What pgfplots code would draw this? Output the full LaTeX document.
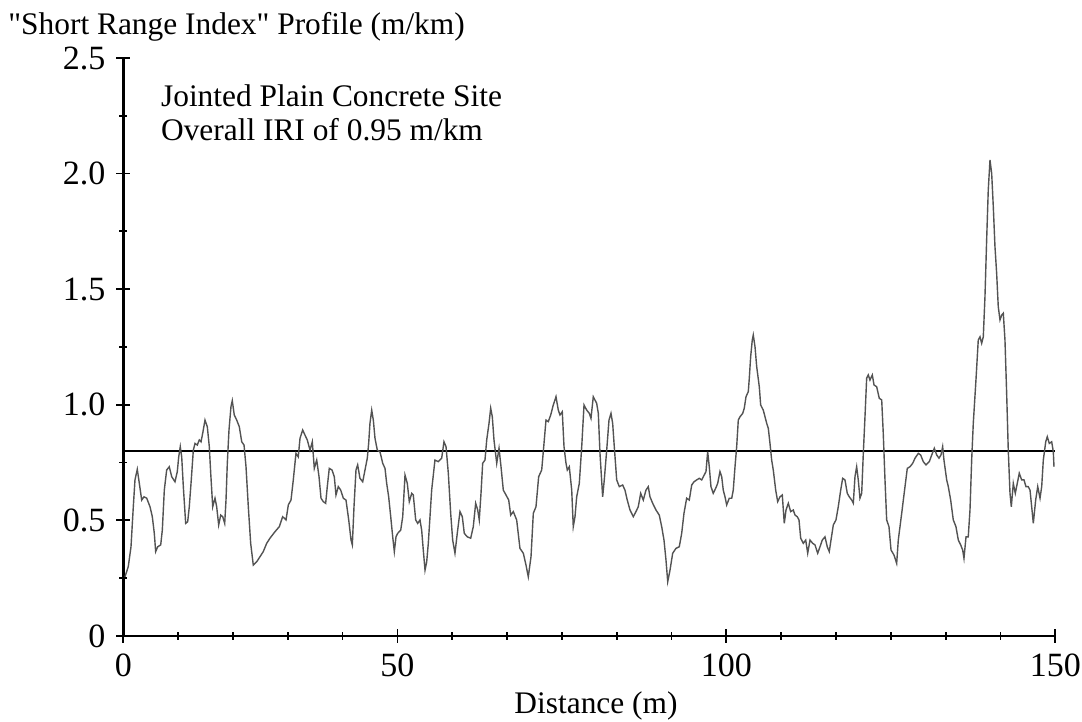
\documentclass[border=0pt]{standalone}
\usepackage{fontspec}
\setmainfont{Liberation Serif}[Ligatures=TeXOff]
\usepackage{pgfplots}
\pgfplotsset{compat=1.18}
\usepackage{pgfplotstable}

\pgfplotstableread{
x y
0.27 0.256
0.80 0.300
1.24 0.386
1.61 0.559
1.88 0.675
2.25 0.721
2.58 0.660
2.96 0.588
3.33 0.602
3.77 0.596
4.30 0.559
4.67 0.516
4.99 0.444
5.21 0.365
5.54 0.386
6.02 0.394
6.28 0.458
6.60 0.631
6.98 0.718
7.40 0.732
7.79 0.689
8.32 0.667
8.69 0.711
8.92 0.775
9.17 0.819
9.40 0.775
9.66 0.646
10.04 0.487
10.36 0.494
10.62 0.559
10.94 0.675
11.27 0.804
11.54 0.833
11.91 0.826
12.23 0.848
12.51 0.840
12.78 0.877
13.15 0.934
13.52 0.905
13.84 0.819
14.07 0.704
14.39 0.559
14.76 0.596
15.03 0.559
15.35 0.480
15.68 0.523
16.00 0.516
16.32 0.487
16.53 0.588
16.74 0.747
17.01 0.891
17.33 0.992
17.54 1.018
17.86 0.956
18.25 0.934
18.67 0.905
19.06 0.840
19.43 0.826
19.75 0.732
20.12 0.559
20.50 0.401
20.92 0.307
21.47 0.321
22.00 0.343
22.53 0.365
23.08 0.401
23.61 0.423
24.41 0.451
25.11 0.473
25.65 0.516
26.19 0.502
26.56 0.567
26.99 0.588
27.36 0.675
27.79 0.790
28.16 0.775
28.44 0.855
28.87 0.891
29.24 0.869
29.61 0.848
30.05 0.804
30.42 0.840
30.74 0.725
31.13 0.761
31.50 0.689
31.82 0.596
32.19 0.581
32.57 0.574
32.83 0.646
33.15 0.725
33.59 0.718
33.96 0.689
34.23 0.610
34.60 0.646
34.99 0.631
35.41 0.596
35.84 0.588
36.28 0.502
36.65 0.415
36.86 0.394
37.13 0.559
37.45 0.718
37.72 0.740
38.09 0.682
38.53 0.667
38.90 0.718
39.27 0.769
39.49 0.833
39.70 0.920
39.98 0.977
40.24 0.934
40.51 0.855
40.88 0.804
41.31 0.797
41.75 0.747
42.12 0.725
42.39 0.660
42.71 0.602
43.04 0.516
43.36 0.429
43.62 0.365
43.89 0.429
44.16 0.444
44.65 0.458
44.97 0.516
45.34 0.696
45.71 0.660
46.03 0.581
46.42 0.617
46.67 0.610
47.06 0.502
47.38 0.487
47.75 0.502
48.02 0.458
48.28 0.372
48.56 0.285
48.83 0.321
49.09 0.401
49.63 0.631
50.16 0.761
50.70 0.754
51.24 0.769
51.61 0.840
51.94 0.819
52.31 0.704
52.69 0.531
53.01 0.415
53.38 0.358
53.75 0.444
54.19 0.538
54.56 0.516
54.88 0.444
55.36 0.429
55.91 0.423
56.33 0.473
56.71 0.574
57.04 0.545
57.29 0.502
57.57 0.617
57.84 0.747
58.21 0.761
58.49 0.848
58.86 0.920
59.13 0.985
59.39 0.948
59.66 0.848
60.10 0.747
60.47 0.812
60.79 0.732
61.16 0.631
61.59 0.610
62.03 0.588
62.35 0.523
62.77 0.538
63.31 0.502
63.84 0.379
64.38 0.358
64.81 0.307
65.18 0.256
65.62 0.343
65.99 0.531
66.42 0.559
66.85 0.689
67.34 0.718
67.71 0.833
68.03 0.934
68.40 0.927
68.79 0.956
69.20 0.999
69.64 1.035
70.01 0.977
70.28 0.956
70.65 0.970
70.93 0.819
71.25 0.747
71.46 0.718
71.78 0.732
72.17 0.631
72.42 0.473
72.70 0.516
72.97 0.602
73.39 0.660
73.78 0.819
74.15 0.999
74.58 0.977
75.00 0.963
75.27 0.941
75.64 1.035
76.19 1.006
76.45 0.963
76.72 0.790
77.15 0.602
77.41 0.675
77.80 0.804
78.17 0.934
78.49 0.963
78.76 0.920
79.02 0.819
79.41 0.675
79.83 0.646
80.37 0.653
80.74 0.631
81.11 0.588
81.55 0.545
82.08 0.516
82.51 0.538
82.88 0.559
83.27 0.617
83.69 0.588
84.12 0.631
84.49 0.646
84.77 0.602
85.20 0.574
85.73 0.545
86.26 0.523
86.65 0.473
87.02 0.415
87.34 0.329
87.62 0.235
87.99 0.285
88.42 0.358
88.95 0.379
89.48 0.386
89.87 0.444
90.24 0.531
90.67 0.596
91.09 0.588
91.48 0.653
91.85 0.667
92.28 0.675
92.70 0.682
93.09 0.675
93.35 0.689
93.78 0.711
94.05 0.797
94.31 0.732
94.58 0.646
94.95 0.617
95.34 0.639
95.66 0.660
96.03 0.711
96.31 0.689
96.56 0.631
96.84 0.602
97.11 0.567
97.53 0.596
97.92 0.596
98.17 0.631
98.45 0.732
98.72 0.819
98.98 0.934
99.25 0.948
99.69 0.963
99.94 0.985
100.22 1.035
100.59 1.057
100.75 1.115
100.97 1.208
101.23 1.280
101.39 1.302
101.67 1.251
101.94 1.165
102.36 1.078
102.58 0.999
103.00 0.977
103.28 0.948
103.55 0.920
103.81 0.898
104.08 0.833
104.35 0.761
104.61 0.718
105.00 0.631
105.32 0.581
105.69 0.602
106.06 0.610
106.38 0.487
106.66 0.545
107.03 0.574
107.41 0.538
107.83 0.545
108.11 0.523
108.47 0.516
108.75 0.502
109.02 0.423
109.44 0.401
109.83 0.415
110.15 0.358
110.52 0.415
110.95 0.401
111.32 0.394
111.76 0.358
112.13 0.386
112.50 0.415
112.93 0.429
113.30 0.386
113.62 0.365
113.90 0.415
114.27 0.480
114.70 0.502
115.07 0.559
115.46 0.631
115.78 0.682
116.15 0.675
116.52 0.617
116.84 0.602
117.23 0.588
117.49 0.574
117.76 0.689
118.03 0.732
118.29 0.675
118.56 0.596
118.84 0.617
119.10 0.790
119.37 0.948
119.64 1.115
119.90 1.129
120.17 1.107
120.55 1.129
120.82 1.086
121.25 1.078
121.67 1.028
122.06 1.021
122.31 0.877
122.59 0.675
122.86 0.502
123.23 0.473
123.56 0.372
124.04 0.350
124.47 0.314
124.73 0.415
125.28 0.531
125.81 0.646
126.18 0.725
126.61 0.732
127.05 0.747
127.42 0.769
127.95 0.790
128.33 0.783
128.75 0.754
129.19 0.740
129.72 0.754
130.11 0.783
130.53 0.812
130.91 0.783
131.28 0.769
131.60 0.783
131.87 0.819
132.08 0.761
132.52 0.675
132.78 0.646
133.16 0.588
133.58 0.502
134.01 0.473
134.39 0.415
134.77 0.394
135.09 0.372
135.30 0.336
135.63 0.429
135.99 0.429
136.27 0.545
136.54 0.761
136.80 0.920
137.23 1.107
137.60 1.280
137.88 1.294
138.15 1.266
138.41 1.294
138.68 1.467
138.95 1.713
139.21 1.929
139.49 2.059
139.76 2.001
140.02 1.857
140.29 1.684
140.56 1.569
140.82 1.424
141.10 1.367
141.37 1.388
141.63 1.396
141.90 1.280
142.17 1.050
142.43 0.804
142.71 0.617
142.92 0.559
143.24 0.660
143.56 0.617
143.88 0.660
144.20 0.704
144.59 0.675
144.96 0.675
145.28 0.646
145.65 0.646
145.93 0.631
146.20 0.559
146.46 0.487
146.84 0.588
147.17 0.646
147.54 0.596
147.81 0.646
148.07 0.761
148.46 0.840
148.71 0.862
149.03 0.833
149.42 0.840
149.68 0.797
149.79 0.732
}\sri

\begin{document}
\fontsize{15.7}{18}\selectfont
\begin{tikzpicture}
\begin{axis}[
  name=ax, at={(0pt,0pt)}, anchor=south west,
  scale only axis, width=466pt, height=289pt,
  xmin=0, xmax=150, ymin=0, ymax=2.5,
  axis lines*=left,
  axis line style={line width=1.4pt, black},
  xtick={0,44.1176,97.0588,150},
  xticklabels={0,50,100,150},
  minor xtick={8.8235,17.6471,26.4706,35.2941,52.9412,61.7647,70.5882,79.4118,88.2353,105.8824,114.7059,123.5294,132.3529,141.1765},
  ytick={0,0.5,1,1.5,2,2.5},
  yticklabels={0,0.5,1.0,1.5,2.0,2.5},
  minor ytick={0.25,0.75,1.25,1.75,2.25},
  tick align=center,
  major tick length=7pt,
  minor tick length=4pt,
  every tick/.style={black, line width=0.9pt},
  /pgf/number format/assume math mode=true,
  ticklabel style={font=\fontsize{17}{20}\selectfont},
  clip=false,
]
\addplot[black, line width=0.9pt] coordinates {(0,0.8) (150,0.8)};
\addplot[gray!65!black, line width=0.7pt] table[x=x,y=y]{\sri};
\end{axis}
\node[anchor=base west, inner sep=0pt] at (-57.65pt,300.5pt) {"Short Range Index" Profile (m/km)};
\node[anchor=base west, inner sep=0pt] at (18.7pt,264.5pt) {Jointed Plain Concrete Site};
\node[anchor=base west, inner sep=0pt] at (18.7pt,247.5pt) {Overall IRI of 0.95 m/km};
\node[anchor=base, inner sep=0pt] at (236.35pt,-39pt) {Distance (m)};
\pgfresetboundingbox
\path[use as bounding box] (-61.65pt,-43pt) rectangle (479.35pt,318pt);
\end{tikzpicture}
\end{document}
